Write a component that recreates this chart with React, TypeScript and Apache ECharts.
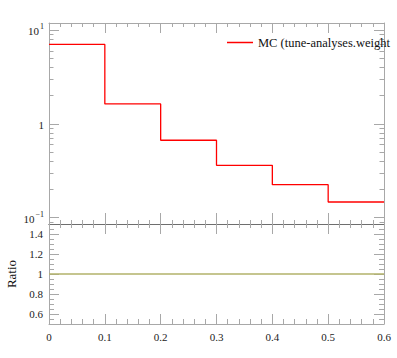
import React, { useEffect, useRef } from "react";
import * as echarts from "echarts";

const binEdges = [0, 0.1, 0.2, 0.3, 0.4, 0.5, 0.6];
const mcValues = [7.0, 1.63, 0.668, 0.361, 0.225, 0.147];
const ratioValues = [1, 1, 1, 1, 1, 1];
const logMajorTicks = [0.1, 1, 10];
const logMinorTicks = [0.09, 0.2, 0.3, 0.4, 0.5, 0.6, 0.7, 0.8, 0.9, 2, 3, 4, 5, 6, 7, 8, 9];
const ratioMajorTicks = [0.6, 0.8, 1, 1.2, 1.4];
const ratioMinorTicks = [0.55, 0.65, 0.7, 0.75, 0.85, 0.9, 0.95, 1.05, 1.1, 1.15, 1.25, 1.3, 1.35, 1.45];
const seriesName = "MC (tune-analyses.weight";
const ratioName = "Ratio";

const FONT = "'Liberation Serif', serif";
const FRAME = "#a8a8a8";
const SEP = "#6e6e6e";

function stepData(values: number[]) {
  return binEdges.map((x, i) => [x, values[Math.min(i, values.length - 1)]]);
}

export default function App() {
  const ref = useRef<HTMLDivElement>(null);
  useEffect(() => {
    document.body.style.margin = "0";
    const chart = echarts.init(ref.current!, null, { renderer: "svg" });
    const xBase = (grid: number, position: string, lineColor: string, showLabel: boolean, major: number, minor: number) => ({
      type: "value",
      gridIndex: grid,
      position,
      min: 0,
      max: 0.6,
      interval: 0.1,
      axisLine: { show: true, lineStyle: { color: lineColor, width: 1 } },
      axisTick: { show: true, inside: true, length: major, lineStyle: { color: FRAME } },
      minorTick: { show: true, splitNumber: 5, length: minor, lineStyle: { color: FRAME } },
      splitLine: { show: false },
      axisLabel: {
        show: showLabel,
        margin: 7,
        fontFamily: FONT,
        fontSize: 11,
        color: "#222",
        alignMinLabel: "center",
        alignMaxLabel: "center",
        hideOverlap: false,
      },
    });
    const logAxis = (position: string, ticks: number[], len: number, showLine: boolean, showLabel: boolean) => ({
      type: "log",
      gridIndex: 0,
      position,
      min: 0.0857,
      max: 11.85,
      axisLine: { show: showLine, lineStyle: { color: FRAME } },
      axisTick: { show: true, inside: true, length: len, customValues: ticks, lineStyle: { color: FRAME } },
      splitLine: { show: false },
      axisLabel: {
        show: showLabel,
        customValues: logMajorTicks,
        margin: 5,
        fontFamily: FONT,
        fontSize: 11,
        color: "#222",
        formatter: (v: number) => {
          if (Math.abs(v - 10) < 1e-9) return "{b|10}{s|1}";
          if (Math.abs(v - 1) < 1e-9) return "{b|1}";
          if (Math.abs(v - 0.1) < 1e-9) return "{b|10}{s|−1}";
          return "";
        },
        rich: {
          b: { fontFamily: FONT, fontSize: 11, color: "#222", lineHeight: 14, verticalAlign: "bottom" },
          s: { fontFamily: FONT, fontSize: 8, color: "#222", lineHeight: 14, verticalAlign: "top", padding: [0, 0, 5, 1] },
        },
      },
    });
    const ratioAxis = (position: string, ticks: number[], len: number, showLine: boolean, showLabel: boolean, name?: string) => ({
      type: "value",
      gridIndex: 1,
      position,
      min: 0.5,
      max: 1.5,
      name: name,
      nameLocation: "middle",
      nameGap: 30,
      nameRotate: 90,
      nameTextStyle: { fontFamily: FONT, fontSize: 13, color: "#111" },
      axisLine: { show: showLine, lineStyle: { color: FRAME } },
      axisTick: { show: true, inside: true, length: len, customValues: ticks, lineStyle: { color: FRAME } },
      splitLine: { show: false },
      axisLabel: {
        show: showLabel,
        customValues: ratioMajorTicks,
        margin: 6,
        fontFamily: FONT,
        fontSize: 11,
        color: "#222",
        formatter: (v: number) => String(Math.round(v * 10) / 10),
      },
    });
    chart.setOption({
      animation: false,
      backgroundColor: "#fff",
      grid: [
        { left: 49, top: 23, width: 335, height: 201, containLabel: false, outerBoundsMode: "none" },
        { left: 49, top: 224, width: 335, height: 100, containLabel: false, outerBoundsMode: "none" },
      ],
      legend: {
        show: true,
        left: 227,
        top: 36,
        padding: 0,
        itemWidth: 26,
        itemHeight: 1.5,
        itemGap: 5,
        data: [{ name: seriesName, icon: "rect" }],
        textStyle: { fontFamily: FONT, fontSize: 12.5, color: "#111" },
      },
      xAxis: [
        xBase(0, "bottom", SEP, false, 11, 4),
        xBase(0, "top", FRAME, false, 10, 4),
        xBase(1, "bottom", FRAME, true, 10, 5),
        xBase(1, "top", SEP, false, 10, 4),
      ],
      yAxis: [
        logAxis("left", logMajorTicks, 10, true, true),
        logAxis("left", logMinorTicks, 4.5, false, false),
        logAxis("right", logMajorTicks, 10, true, false),
        logAxis("right", logMinorTicks, 4.5, false, false),
        ratioAxis("left", ratioMajorTicks, 10, true, true, ratioName),
        ratioAxis("left", ratioMinorTicks, 5, false, false),
        ratioAxis("right", ratioMajorTicks, 10, true, false),
        ratioAxis("right", ratioMinorTicks, 5, false, false),
      ],
      series: [
        {
          name: seriesName,
          type: "line",
          xAxisIndex: 0,
          yAxisIndex: 0,
          step: "end",
          data: stepData(mcValues),
          showSymbol: false,
          symbol: "none",
          color: "#ff0000",
          lineStyle: { color: "#ff0000", width: 1.3 },
          z: 3,
        },
        {
          name: "ratio",
          type: "line",
          xAxisIndex: 2,
          yAxisIndex: 4,
          step: "end",
          data: stepData(ratioValues),
          showSymbol: false,
          symbol: "none",
          color: "#b3b36b",
          lineStyle: { color: "#b3b36b", width: 1.3 },
          z: 3,
        },
      ],
    });
    return () => chart.dispose();
  }, []);
  return <div ref={ref} style={{ width: 397, height: 358 }} />;
}
